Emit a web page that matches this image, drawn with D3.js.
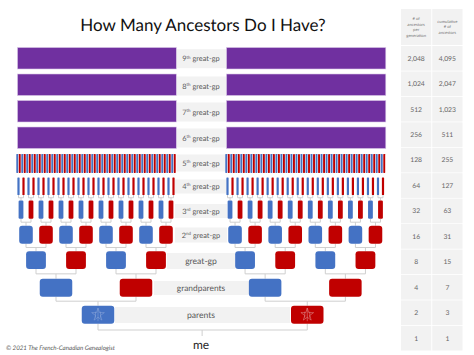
<!DOCTYPE html>
<html>
<head>
<meta charset="utf-8">
<script src="https://cdn.jsdelivr.net/npm/d3@7"></script>
<style>
    html, body { margin: 0; padding: 0; background: #fff; }
    svg { display: block; font-family: Lato, "Open Sans", sans-serif; text-rendering: geometricPrecision; }
</style>
</head>
<body>
<svg id="chart"></svg>
<script>
const titleText = "How Many Ancestors Do I Have?";
const footerText = "© 2021 The French-Canadian Genealogist";
const bottomLabel = "me";

// oldest generation first
const genLabels = ["9th great-gp", "8th great-gp", "7th great-gp", "6th great-gp", "5th great-gp",
    "4th great-gp", "3rd great-gp", "2nd great-gp", "great-gp", "grandparents", "parents"];
const perGeneration = [2048, 1024, 512, 256, 128, 64, 32, 16, 8, 4, 2];
const cumulative = [4095, 2047, 1023, 511, 255, 127, 63, 31, 15, 7, 3];
const tableCol1 = [...perGeneration, 1];
const tableCol2 = [...cumulative, 1];
const tableHeaders = [["# of", "ancestors", "per", "generation"], ["cumulative", "# of", "ancestors"]];

const width = 474;
const height = 355;
const blue = "#4472C4";
const red = "#C00000";
const purple = "#7030A0";
const lineColor = "#cfcfcf";
const bandColor = "#f2f2f2";

const svg = d3.select("#chart").attr("width", width).attr("height", height);

// Each half of the tree spreads its people evenly over one of these
const leftX = d3.scaleLinear().domain([0, 1]).range([16, 176]);
const rightX = d3.scaleLinear().domain([0, 1]).range([225, 385.5]);

// Layout per generation
const rowTop = d3.scaleOrdinal().domain(genLabels).range([47.5, 74, 100.5, 127, 154, 177.5, 200.5, 225.7, 251.3, 278.7, 305.7]);
const rowHeight = d3.scaleOrdinal().domain(genLabels).range([21.5, 21.5, 21.5, 21.5, 19, 17.5, 18.2, 18, 17.7, 18, 18]);
const boxWidth = d3.scaleOrdinal().domain(genLabels).range([0, 0, 0, 0, 1.9, 2.2, 4.8, 13.6, 19.8, 32.5, 32.5]);
const labelY = d3.scaleOrdinal().domain(genLabels).range([58.7, 86, 112, 138, 163, 186.5, 211, 235, 261, 288, 315]);
const labelSize = d3.scaleOrdinal().domain(genLabels).range([7.4, 7.4, 7.4, 7.4, 7.4, 7.4, 7.4, 7.4, 8.6, 8.4, 8.6]);
const bandLeft = d3.scaleOrdinal().domain(genLabels).range([176.5, 176.5, 176.5, 176.5, 176.5, 175, 175, 175, 167, 154, 115]);
const bandRight = d3.scaleOrdinal().domain(genLabels).range([226, 226, 226, 226, 226, 227, 227, 227, 235, 249, 290]);
const bandHeight = d3.scaleOrdinal().domain(genLabels).range([19, 19, 19, 19, 17, 14, 14, 15, 16, 14, 16]);

// Parents sit a little right of the midpoint of their children
const nudge = g => (g === "parents" ? 2 : 0);

const people = g => {
    const n = perGeneration[genLabels.indexOf(g)] / 2;
    return d3.range(n).flatMap(i => [leftX, rightX].map(x => ({
        x: x((i + 0.5) / n) + nudge(g),
        side: x,
        i,
        n,
        // father's line is blue, mother's red; the two parents split by side
        fill: (g === "parents" ? x === leftX : i % 2 === 0) ? blue : red
    })));
};

// Bands behind the generation names
svg.append("g").selectAll("rect")
    .data(genLabels)
    .join("rect")
    .attr("x", d => bandLeft(d))
    .attr("y", d => labelY(d) - bandHeight(d) / 2)
    .attr("width", d => bandRight(d) - bandLeft(d))
    .attr("height", d => bandHeight(d))
    .attr("fill", bandColor);

// Connectors between a box and its two parents
const links = svg.append("g")
    .attr("fill", "none")
    .attr("stroke", lineColor)
    .attr("stroke-width", 1);

genLabels.forEach((g, k) => {
    if (k < 6) return; // too tight above the 4th row
    const older = genLabels[k - 1];
    const top = rowTop(older) + rowHeight(older);
    const bottom = rowTop(g);
    const mid = (top + bottom) / 2;
    people(g).forEach(p => {
        const a = p.side((2 * p.i + 0.5) / (2 * p.n));
        const b = p.side((2 * p.i + 1.5) / (2 * p.n));
        links.append("path")
            .attr("d", `M${a},${top}V${mid}H${b}V${top}M${p.x},${mid}V${bottom}`);
    });
});

// Boxes and thin bars
genLabels.slice(4).forEach(g => {
    const w = boxWidth(g);
    const r = Math.min(w / 4, 3);
    svg.append("g").selectAll("rect")
        .data(people(g))
        .join("rect")
        .attr("x", d => d.x - w / 2)
        .attr("y", rowTop(g))
        .attr("width", w)
        .attr("height", rowHeight(g))
        .attr("rx", r)
        .attr("fill", d => d.fill);
});

// Older generations are too dense to draw one by one
genLabels.slice(0, 4).forEach(g => {
    svg.append("g").selectAll("rect")
        .data([leftX, rightX])
        .join("rect")
        .attr("x", x => x(0) + 1.5)
        .attr("y", rowTop(g))
        .attr("width", x => x(1) - x(0) - 1.2)
        .attr("height", rowHeight(g))
        .attr("fill", purple)
        .attr("stroke", "#d9c6e6")
        .attr("stroke-width", 0.6);
});

// Maple leaf marks on the parents
const parentsRow = "parents";
people(parentsRow).forEach(p => {
    const cy = rowTop(parentsRow) + rowHeight(parentsRow) / 2;
    const leaf = svg.append("g")
        .attr("transform", `translate(${p.x},${cy})`)
        .attr("fill", "none")
        .attr("stroke", p.fill === blue ? "#8fa8da" : "#e39a9a")
        .attr("stroke-width", 0.5);
    leaf.append("path").attr("d", d3.symbol(d3.symbolStar, 50));
    leaf.append("path").attr("d", "M0,-6.5V6.5M-2.5,-3V3M2.5,-3V3");
});

// Bracket down to me
const parentsBottom = rowTop(parentsRow) + rowHeight(parentsRow);
const parentXs = people(parentsRow).map(p => p.x);
const midX = d3.mean(parentXs) - 0.5;
links.append("path")
    .attr("d", `M${parentXs[0]},${parentsBottom}V330H${parentXs[1]}V${parentsBottom}M${midX},330V336`);

// Generation names
const nameLabels = svg.append("g")
    .attr("text-anchor", "middle")
    .attr("fill", "#595959");

genLabels.forEach(g => {
    const m = g.match(/^(\d+)(st|nd|rd|th) (.*)$/);
    const t = nameLabels.append("text")
        .attr("x", 201)
        .attr("y", labelY(g))
        .attr("dy", "0.35em")
        .attr("font-size", labelSize(g));
    if (m) {
        t.append("tspan").text(m[1]);
        t.append("tspan").attr("font-size", 4.4).attr("dy", -2.6).text(m[2]);
        t.append("tspan").attr("dy", 2.6).text(" " + m[3]);
    } else {
        t.text(g);
    }
});

svg.append("text")
    .attr("x", 201)
    .attr("y", 345)
    .attr("dy", "0.35em")
    .attr("text-anchor", "middle")
    .attr("font-size", 12)
    .attr("fill", "#262626")
    .text(bottomLabel);

svg.append("text")
    .attr("x", 203)
    .attr("y", 25)
    .attr("dy", "0.35em")
    .attr("text-anchor", "middle")
    .attr("font-size", 17)
    .attr("fill", "#111")
    .text(titleText);

svg.append("text")
    .attr("x", 6)
    .attr("y", 348)
    .attr("dy", "0.35em")
    .attr("font-size", 6.2)
    .attr("font-style", "italic")
    .attr("fill", "#595959")
    .text(footerText);

// Table on the right
const tableRows = d3.scaleBand().domain(d3.range(tableCol1.length)).range([46, 350.5]).paddingInner(0.03);
const tableCols = d3.scaleBand().domain([0, 1]).range([401, 462.5]).paddingInner(0.03);
const table = svg.append("g");

[tableCol1, tableCol2].forEach((col, c) => {
    table.append("rect")
        .attr("x", tableCols(c))
        .attr("y", 9)
        .attr("width", tableCols.bandwidth())
        .attr("height", 36)
        .attr("fill", bandColor);

    table.append("g").selectAll("rect")
        .data(col)
        .join("rect")
        .attr("x", tableCols(c))
        .attr("y", (d, i) => tableRows(i))
        .attr("width", tableCols.bandwidth())
        .attr("height", tableRows.bandwidth())
        .attr("fill", bandColor);

    table.append("g").selectAll("text")
        .data(col)
        .join("text")
        .attr("x", tableCols(c) + tableCols.bandwidth() / 2)
        .attr("y", (d, i) => tableRows(i) + tableRows.bandwidth() / 2)
        .attr("dy", "0.35em")
        .attr("text-anchor", "middle")
        .attr("font-size", 6.8)
        .attr("fill", "#666")
        .text(d3.format(","));

    const lines = tableHeaders[c];
    table.append("g").selectAll("text")
        .data(lines)
        .join("text")
        .attr("x", tableCols(c) + tableCols.bandwidth() / 2)
        .attr("y", (d, i) => 27 + (i - (lines.length - 1) / 2) * 5.6)
        .attr("dy", "0.35em")
        .attr("text-anchor", "middle")
        .attr("font-size", 4.2)
        .attr("fill", "#777")
        .text(d => d);
});
</script>
</body>
</html>
